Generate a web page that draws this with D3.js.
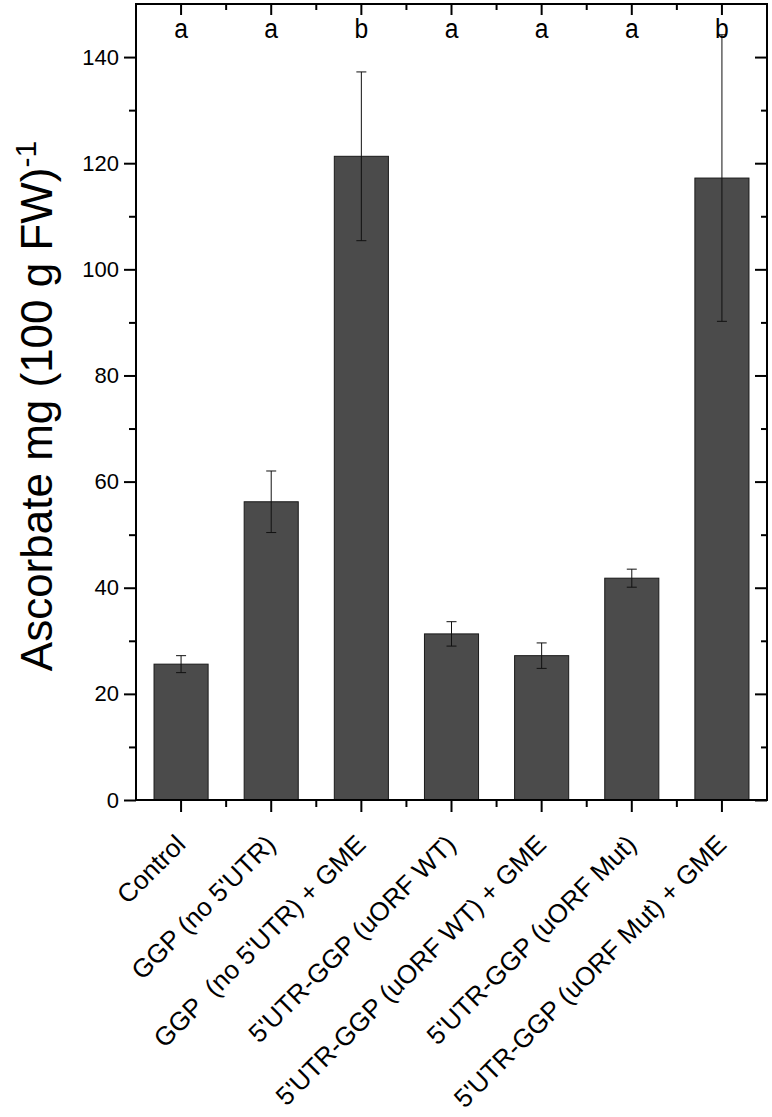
<!DOCTYPE html>
<html>
<head>
<meta charset="utf-8">
<script src="https://d3js.org/d3.v7.min.js"></script>
<style>
  body { margin: 0; background: #fff; }
  text { font-family: "Liberation Sans", Arial, sans-serif; fill: #000; }
</style>
</head>
<body>
<div id="graph"></div>
<script>
// ascorbate content per construct
const categories = ["Control", "GGP (no 5'UTR)", "GGP  (no 5'UTR) + GME",
  "5'UTR-GGP (uORF WT)", "5'UTR-GGP (uORF WT) + GME",
  "5'UTR-GGP (uORF Mut)", "5'UTR-GGP (uORF Mut) + GME"];
const means = [25.6, 56.2, 121.3, 31.3, 27.2, 41.8, 117.2];
const errors = [1.6, 5.8, 15.9, 2.3, 2.4, 1.7, 27.0];
const letters = ["a", "a", "b", "a", "a", "a", "b"];
const yTicks = [0, 20, 40, 60, 80, 100, 120, 140];
const yMinorTicks = [10, 30, 50, 70, 90, 110, 130];

var width = 772, height = 1117;
var margins = {top: 4, right: 5, bottom: 317, left: 136};
var graphWidth = width - margins.left - margins.right;
var graphHeight = height - margins.top - margins.bottom;

var svg = d3.select('#graph')
  .append('svg')
  .attr('width', width)
  .attr('height', height)
  .append('g')
  .attr('transform', 'translate(' + margins.left + ',' + margins.top + ')');

// band scale so each category sits at a whole step, half a step from the frame
const x = d3.scaleBand()
  .domain(categories)
  .range([0, graphWidth])
  .paddingInner(0.4)
  .paddingOuter(0.2);
const step = x.step();

const y = d3.scaleLinear()
  .domain([0, 150])
  .range([graphHeight, 0]);

// a shifted copy of the band scale gives the minor ticks between categories
var xHalf = x.copy().range([-step / 2, graphWidth - step / 2]);

// bars
svg.selectAll('.bar')
  .data(means)
  .enter().append('rect')
  .attr('class', 'bar')
  .attr('x', (d, i) => x(categories[i]))
  .attr('y', d => y(d))
  .attr('width', x.bandwidth())
  .attr('height', d => graphHeight - y(d))
  .style('fill', '#4b4b4b')
  .style('stroke', '#1a1a1a')
  .style('stroke-width', 1);

// error bars
var errG = svg.append('g').attr('stroke', '#111').attr('stroke-width', 1);
means.forEach(function(m, i) {
  var cx = x(categories[i]) + x.bandwidth() / 2;
  var hi = y(m + errors[i]), lo = y(m - errors[i]);
  errG.append('line').attr('x1', cx).attr('x2', cx).attr('y1', hi).attr('y2', lo);
  errG.append('line').attr('x1', cx - 5).attr('x2', cx + 5).attr('y1', hi).attr('y2', hi);
  errG.append('line').attr('x1', cx - 5).attr('x2', cx + 5).attr('y1', lo).attr('y2', lo);
});

// significance letters
svg.selectAll('.letter')
  .data(letters)
  .enter().append('text')
  .attr('class', 'letter')
  .attr('text-anchor', 'middle')
  .attr('transform', (d, i) => 'translate(' + (x(categories[i]) + x.bandwidth() / 2) + ',' + (38 - margins.top) + ') scale(0.88,1)')
  .style('font-size', '28px')
  .text(d => d);

// left axis, outward ticks
var yAxis = svg.append('g')
  .call(d3.axisLeft(y).tickValues(yTicks).tickSize(12).tickPadding(5).tickSizeOuter(0));
yAxis.selectAll('text').style('font-size', '22px');
svg.append('g')
  .call(d3.axisLeft(y).tickValues(yMinorTicks).tickSize(7).tickFormat('').tickSizeOuter(0));

// right axis, inward ticks
svg.append('g').attr('transform', 'translate(' + graphWidth + ',0)')
  .call(d3.axisLeft(y).tickValues(yTicks).tickSize(12).tickFormat('').tickSizeOuter(0));
svg.append('g').attr('transform', 'translate(' + graphWidth + ',0)')
  .call(d3.axisLeft(y).tickValues(yMinorTicks).tickSize(6).tickFormat('').tickSizeOuter(0));

// bottom axis, outward ticks
svg.append('g')
  .attr('transform', 'translate(0,' + graphHeight + ')')
  .call(d3.axisBottom(x).tickSize(12).tickSizeOuter(0).tickFormat(''));
svg.append('g')
  .attr('transform', 'translate(0,' + graphHeight + ')')
  .call(d3.axisBottom(xHalf).tickSize(7).tickSizeOuter(0).tickFormat(''))
  .selectAll('.tick').filter((d, i) => i === 0).remove();

// top axis, inward ticks
svg.append('g')
  .call(d3.axisBottom(x).tickSize(11).tickSizeOuter(0).tickFormat(''));
svg.append('g')
  .call(d3.axisBottom(xHalf).tickSize(6).tickSizeOuter(0).tickFormat(''))
  .selectAll('.tick').filter((d, i) => i === 0).remove();

svg.selectAll('.domain').remove();
svg.selectAll('.tick line').attr('stroke', '#000').attr('stroke-width', 2);

// frame
svg.append('rect')
  .attr('width', graphWidth)
  .attr('height', graphHeight)
  .attr('fill', 'none')
  .attr('stroke', '#000')
  .attr('stroke-width', 2);

// rotated category labels (keep the double space in the third one)
svg.selectAll('.xlabel')
  .data(categories)
  .enter().append('text')
  .attr('class', 'xlabel')
  .attr('text-anchor', 'end')
  .attr('transform', d => 'translate(' + (x(d) + x.bandwidth() / 2 + 6) + ',' + (graphHeight + 46) + ') rotate(-45)')
  .style('font-size', '26px')
  .style('white-space', 'pre')
  .text(d => d);

// y axis title with superscript
var title = svg.append('text')
  .attr('text-anchor', 'middle')
  .attr('transform', 'translate(' + (52 - margins.left) + ',' + (406 - margins.top) + ') rotate(-90)')
  .style('font-size', '44px');
title.append('tspan').text('Ascorbate mg (100 g FW)');
title.append('tspan').attr('dy', -16).style('font-size', '30px').text('-1');
</script>
</body>
</html>
